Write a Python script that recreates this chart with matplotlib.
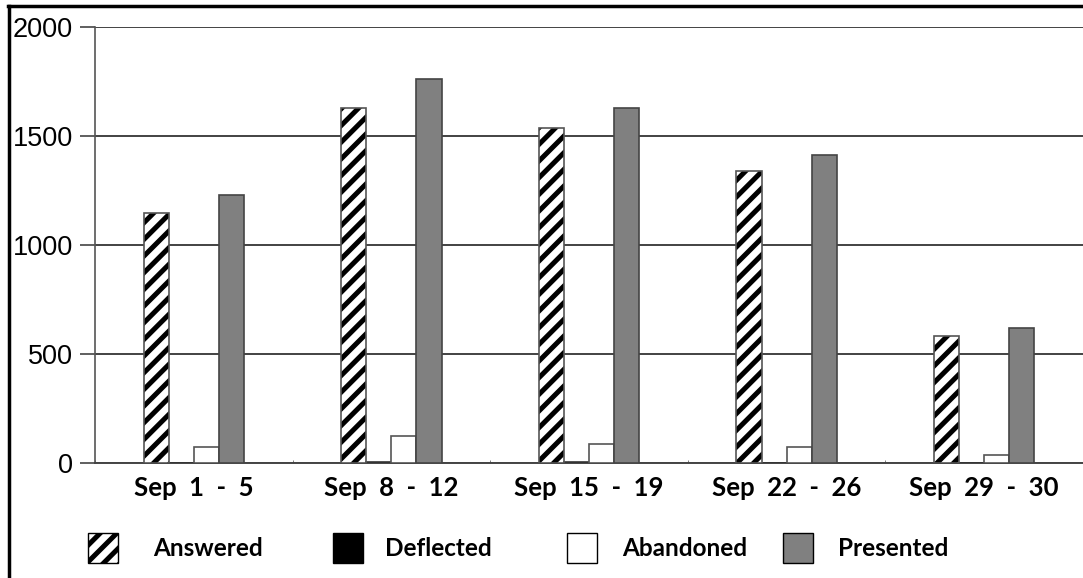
import matplotlib
matplotlib.use("Agg")
import matplotlib.pyplot as plt
import numpy as np
from matplotlib.patches import Rectangle
from matplotlib.lines import Line2D

categories = ["Sep  1  -  5", "Sep  8  -  12", "Sep  15  -  19", "Sep  22  -  26", "Sep  29  -  30"]
answered = [1148, 1630, 1535, 1341, 584]
deflected = [2, 5, 5, 1, 1]
abandoned = [73, 124, 87, 72, 37]
presented = [1228, 1760, 1627, 1413, 621]
series_names = ["Answered", "Deflected", "Abandoned", "Presented"]
yticks = [0, 500, 1000, 1500, 2000]

plt.rcParams['hatch.linewidth'] = 3.6
plt.rcParams['hatch.color'] = 'black'

W, H = 1083, 578
fig = plt.figure(figsize=(W/100, H/100), dpi=100)
ax = fig.add_axes([95/W, 1-463/H, (W-95)/W, (463-27)/H])

x = np.arange(len(categories))
bw = 0.127
styles = [
    dict(facecolor='white', hatch='//', edgecolor='#555555'),
    dict(facecolor='black', edgecolor='#333333'),
    dict(facecolor='white', edgecolor='#555555'),
    dict(facecolor='#808080', edgecolor='#444444'),
]
data = [answered, deflected, abandoned, presented]
for i, (vals, st) in enumerate(zip(data, styles)):
    pos = x + (i - 1.5) * bw
    if st.get('hatch'):
        ax.bar(pos, vals, width=bw, facecolor='white', hatch=st['hatch'],
               edgecolor='black', linewidth=0, zorder=3)
        ax.bar(pos, vals, width=bw, facecolor='none', edgecolor=st['edgecolor'],
               linewidth=1.2, zorder=4)
    else:
        ax.bar(pos, vals, width=bw, linewidth=1.2, zorder=3, **st)

ax.set_xlim(-0.5, len(categories) - 0.5)
ax.set_ylim(0, 2000)
ax.set_yticks(yticks)
ax.set_yticklabels([str(v) for v in yticks], fontsize=19.5, family='Liberation Sans')
ax.tick_params(axis='y', length=11, width=1.2, color='#444444', pad=5)
ax.set_xticks(x)
ax.set_xticklabels(categories, fontsize=18.5, family='Lato', fontweight='bold')
ax.tick_params(axis='x', length=0, pad=9)
ax.set_xticks(np.arange(len(categories) + 1) - 0.5, minor=True)
ax.tick_params(axis='x', which='minor', length=2, direction='in', color='#666666')
ax.yaxis.grid(True, color='#222222', linewidth=1.2, zorder=0)
for s in ['top', 'right']:
    ax.spines[s].set_visible(False)
ax.spines['left'].set_color('#555555')
ax.spines['left'].set_linewidth(1.2)
ax.spines['bottom'].set_color('#444444')
ax.spines['bottom'].set_linewidth(1.4)

# figure frame (left and top)
fig.add_artist(Line2D([9/W, 9/W], [0, 1-6/H], color='black', linewidth=2.5))
fig.add_artist(Line2D([8/W, 1], [1-6/H, 1-6/H], color='black', linewidth=2.5))

# legend
patch_x = [88, 333, 567, 783]
text_x = [153, 385, 622, 838]
for i, name in enumerate(series_names):
    st = styles[i]
    r = Rectangle((patch_x[i]/W, 1-563/H), 30/W, 30/H, transform=fig.transFigure,
                  facecolor=st['facecolor'], hatch=st.get('hatch'), edgecolor='black', linewidth=1.0)
    fig.add_artist(r)
    fig.text(text_x[i]/W, 1-548/H, name, fontsize=17.5, family='Lato', fontweight='bold', va='center', ha='left')

fig.savefig("out.png", dpi=100)
